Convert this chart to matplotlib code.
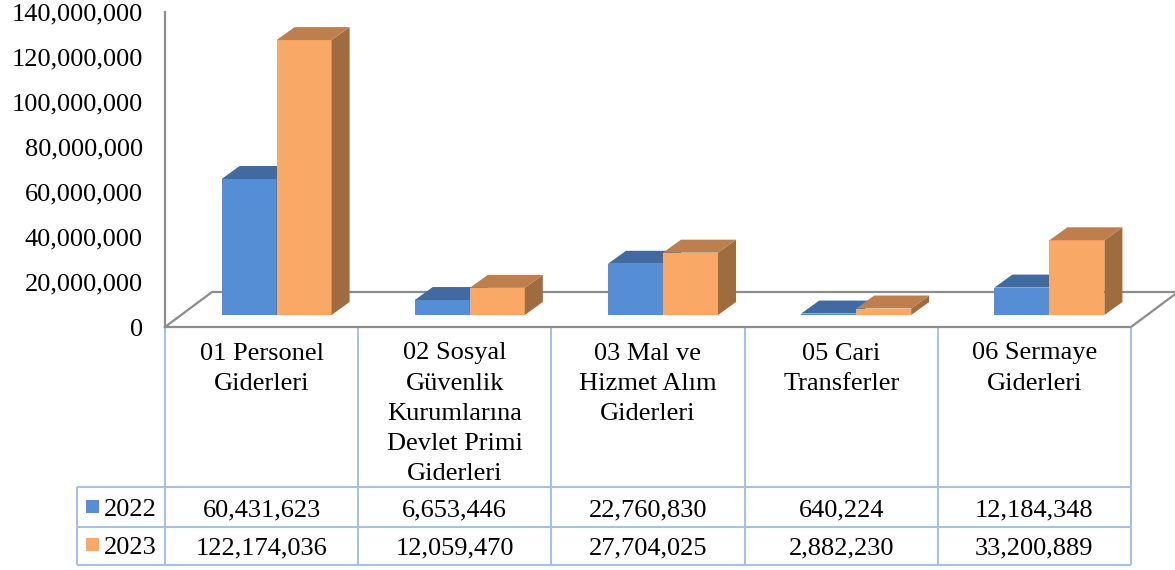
import matplotlib.pyplot as plt
from matplotlib.patches import Polygon, Rectangle

plt.rcParams["font.family"] = ["Liberation Serif", "DejaVu Serif"]

categories = [
    "01 Personel\nGiderleri",
    "02 Sosyal\nGüvenlik\nKurumlarına\nDevlet Primi\nGiderleri",
    "03 Mal ve\nHizmet Alım\nGiderleri",
    "05 Cari\nTransferler",
    "06 Sermaye\nGiderleri",
]
series_names = ["2022", "2023"]
values_2022 = [60431623, 6653446, 22760830, 640224, 12184348]
values_2023 = [122174036, 12059470, 27704025, 2882230, 33200889]
y_ticks = [0, 20000000, 40000000, 60000000, 80000000, 100000000, 120000000, 140000000]

# colours: front, top, side
blue = ("#558ED5", "#416BA0", "#3A5F8F")
orange = ("#F9A965", "#BF7F4C", "#9F6C40")
gray = "#8C8C8C"
grid_blue = "#A7C0E8"

W, H = 1175, 570
fig = plt.figure(figsize=(W / 100, H / 100), dpi=100)

left_px, right_px, base_px, top_px = 165, 1131, 327, 12
ax = fig.add_axes([left_px / W, (H - base_px) / H,
                   (right_px - left_px) / W, (base_px - top_px) / H])
ax.set_xlim(-0.5, len(categories) - 0.5)
ax.set_ylim(0, y_ticks[-1])
ax.set_zorder(2)
ax.patch.set_visible(False)

ux = (right_px - left_px) / len(categories)   # pixels per category
uy = (base_px - top_px) / y_ticks[-1]         # pixels per value unit


def px(dx, dy):
    return dx / ux, dy / uy


# floor
fx, fy = px(47, 35)
x_lo, x_hi = -0.5, len(categories) - 0.5
ax.plot([x_lo, x_hi, x_hi + fx, x_lo + fx, x_lo], [0, 0, fy, fy, 0],
        color=gray, lw=1.6, clip_on=False, zorder=1, solid_joinstyle="miter")

# 3d-ish bars
bw = 55 / ux
sx, sy = px(15, 12)
dx, dy = px(18, 13)
z = 3
for i in range(len(categories)):
    for k, (vals, cols) in enumerate([(values_2022, blue), (values_2023, orange)]):
        v = vals[i]
        x0 = i + sx - bw + k * bw
        ax.bar(x0, v, width=bw, bottom=sy, align="edge", color=cols[0],
               lw=0, zorder=z, clip_on=False)
        side = [(x0 + bw, sy), (x0 + bw + dx, sy + dy),
                (x0 + bw + dx, sy + v + dy), (x0 + bw, sy + v)]
        top = [(x0, sy + v), (x0 + bw, sy + v),
               (x0 + bw + dx, sy + v + dy), (x0 + dx, sy + v + dy)]
        ax.add_patch(Polygon(side, closed=True, color=cols[2], lw=0,
                             zorder=z, clip_on=False))
        ax.add_patch(Polygon(top, closed=True, color=cols[1], lw=0,
                             zorder=z, clip_on=False))
        z += 1

ax.set_xticks([])
ax.set_yticks(y_ticks)
ax.set_yticklabels([f"{t:,.0f}" for t in y_ticks])
ax.tick_params(axis="y", length=0, pad=16, labelsize=19)
for s in ["top", "right", "bottom"]:
    ax.spines[s].set_visible(False)
ax.spines["left"].set_color(gray)
ax.spines["left"].set_linewidth(1.6)

# data table underneath
tab = fig.add_axes([0, 0, 1, 1])
tab.set_xlim(0, W)
tab.set_ylim(H, 0)
tab.axis("off")
tab.set_zorder(1)

legend_left = 77
row_lines = [487, 527, 565]
head_top = 328
col_edges = [left_px + ux * j for j in range(len(categories) + 1)]
lkw = dict(color=grid_blue, lw=1.5, solid_capstyle="butt")

for xe in col_edges:
    tab.plot([xe, xe], [head_top, row_lines[-1]], **lkw)
tab.plot([legend_left, legend_left], [row_lines[0], row_lines[-1]], **lkw)
for yr in row_lines:
    tab.plot([legend_left, col_edges[-1]], [yr, yr], **lkw)

for i, label in enumerate(categories):
    cx = left_px + ux * (i + 0.5)
    for j, line in enumerate(label.split("\n")):
        tab.text(cx, 359.5 + 30.25 * j, line, ha="center", va="baseline",
                 fontsize=19)

baselines = [516, 554]
for r, (name, vals, cols) in enumerate(zip(series_names,
                                           [values_2022, values_2023],
                                           [blue, orange])):
    yb = baselines[r]
    tab.add_patch(Rectangle((86, yb - 16), 13, 13, color=cols[0], lw=0))
    tab.text(104, yb, name, ha="left", va="baseline", fontsize=19)
    for i, v in enumerate(vals):
        cx = left_px + ux * (i + 0.5)
        tab.text(cx, yb, f"{v:,.0f}", ha="center", va="baseline", fontsize=19)

fig.savefig("out.png", dpi=100)
